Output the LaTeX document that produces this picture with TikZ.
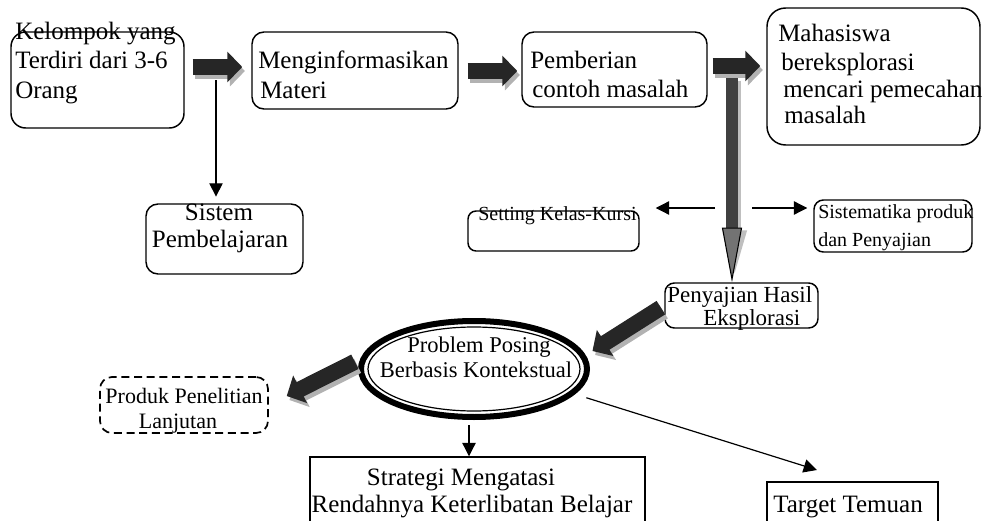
\documentclass[tikz,border=0pt]{standalone}
\usepackage{fontspec}
\setmainfont{Liberation Serif}
\usetikzlibrary{arrows.meta,shapes.geometric,fit,calc}
\begin{document}
\begin{tikzpicture}[x=0.75pt,y=-0.75pt,
 box/.style={draw, line width=1.1pt, rounded corners=9pt, inner sep=0pt},
 sqbox/.style={draw, line width=1.1pt, inner sep=0pt},
 dbox/.style={draw, line width=1.3pt, rounded corners=9pt, inner sep=0pt, dash pattern=on 6pt off 3.5pt},
 lbl/.style={inner sep=0pt, anchor=base west},
 clbl/.style={inner sep=0pt, anchor=base},
 fL/.style={font=\fontsize{18.75pt}{22pt}\selectfont},
 fM/.style={font=\fontsize{17.25pt}{20pt}\selectfont},
 fE/.style={font=\fontsize{16.9pt}{20pt}\selectfont},
 fP/.style={font=\fontsize{16.5pt}{20pt}\selectfont},
 fS/.style={font=\fontsize{15pt}{18pt}\selectfont},
 thinarr/.style={draw, line width=0.9pt, -{Triangle[length=10pt,width=10pt]}},
 fat/.style={draw=black!85, line width=12pt, -{Triangle[length=11.25pt,width=22.5pt]}},
 fatshadow/.style={draw=black!30, line width=12pt, -{Triangle[length=11.25pt,width=22.5pt]}, transform canvas={shift={(2pt,-3pt)}}},
 vfat/.style={draw=black!75, line width=9pt, -{Triangle[length=41pt,width=15pt,color=black,fill=black!55,line width=0.8pt]}},
 vfatshadow/.style={draw=black!25, line width=9pt, -{Triangle[length=41pt,width=15pt]}, transform canvas={shift={(2pt,-2pt)}}},
]
\useasboundingbox (0,0) rectangle (983,521);

% boxes
\node[box, rounded corners=11pt, fit={(11,32) (184,128)}] (b1) {};
\node[box, fit={(252,32) (458,109)}] (b2) {};
\node[box, fit={(522,32) (707,107)}] (b3) {};
\node[box, rounded corners=14pt, fit={(767,8) (980,145)}] (b4) {};
\node[box, fit={(146,204) (303,274)}] (b5) {};
\node[box, rounded corners=6pt, fit={(468,211) (639,251)}] (b6) {};
\node[box, rounded corners=7pt, fit={(814,200) (972,252)}] (b7) {};
\node[box, rounded corners=7pt, fit={(665,283) (818,328)}] (b8) {};
\node[draw, ellipse, line width=4.5pt, minimum width=169.5pt, minimum height=72pt, inner sep=0pt] (ell) at (474,369) {};
\draw[line width=0.9pt] (ell.center) ellipse [x radius=79.5pt, y radius=31.5pt];
\node[dbox, fit={(100,377) (268,433)}] (b9) {};
\node[sqbox, fit={(310,457) (645,535)}] (b10) {};
\node[sqbox, fit={(767,482) (938,535)}] (b11) {};

% texts
\node[lbl, fL] (t1a) at (15,40) {Kelompok yang};
\node[lbl, fL] (t1b) at (15,68) {Terdiri dari 3-6};
\node[lbl, fL] (t1c) at (15,98) {Orang};
\node[lbl, fL] (t2a) at (258,68) {Menginformasikan};
\node[lbl, fL] (t2b) at (260,98) {Materi};
\node[lbl, fL] (t3a) at (530,68) {Pemberian};
\node[lbl, fL] (t3b) at (532,97) {contoh masalah};
\node[lbl, fL] (t4a) at (778,41) {Mahasiswa};
\node[lbl, fL] (t4b) at (781,70) {bereksplorasi};
\node[lbl, fL] (t4c) at (783,97) {mencari pemecahan};
\node[lbl, fL] (t4d) at (784,123) {masalah};
\node[clbl, fL] (t5a) at (219,220) {Sistem};
\node[clbl, fL] (t5b) at (220,247) {Pembelajaran};
\node[lbl, fS] (t6) at (478,220) {Setting Kelas-Kursi};
\node[lbl, fS] (t7a) at (818,218) {Sistematika produk};
\node[lbl, fS] (t7b) at (818,246) {dan Penyajian};
\node[lbl, fM] (t8a) at (667,302) {Penyajian Hasil};
\node[lbl, fM] (t8b) at (703,325) {Eksplorasi};
\node[clbl, fE] (tea) at (479,352) {Problem Posing};
\node[clbl, fE] (teb) at (476,377) {Berbasis Kontekstual};
\node[clbl, fP] (t9a) at (184,403) {Produk Penelitian};
\node[clbl, fP] (t9b) at (178,428) {Lanjutan};
\node[clbl, fL] (t10a) at (461,485) {Strategi Mengatasi};
\node[clbl, fL] (t10b) at (472,512) {Rendahnya Keterlibatan Belajar};
\node[lbl, fL] (t11) at (773,512) {Target Temuan};

% fat arrows
\coordinate (yF1) at (0,67);
\coordinate (yF2) at (0,71);
\coordinate (yF3) at (0,66);
\draw[fatshadow, shorten <=6pt, shorten >=6.75pt] (b1.east |- yF1) -- (b2.west |- yF1);
\draw[fat, shorten <=6pt, shorten >=6.75pt] (b1.east |- yF1) -- (b2.west |- yF1);
\draw[fatshadow, shorten <=6.75pt, shorten >=3pt] (b2.east |- yF2) -- (b3.west |- yF2);
\draw[fat, shorten <=6.75pt, shorten >=3pt] (b2.east |- yF2) -- (b3.west |- yF2);
\draw[fatshadow, shorten <=3.75pt, shorten >=4.5pt] (b3.east |- yF3) -- (b4.west |- yF3);
\draw[fat, shorten <=3.75pt, shorten >=4.5pt] (b3.east |- yF3) -- (b4.west |- yF3);

\coordinate (vtop) at (732,78);
\draw[vfatshadow] (vtop) -- (vtop |- b8.north);
\draw[vfat] (vtop) -- (vtop |- b8.north);

\draw[fatshadow, shorten <=3pt, shorten >=6pt] (b8.west) -- (ell.7);
\draw[fat, shorten <=3pt, shorten >=6pt] (b8.west) -- (ell.7);
\draw[fatshadow, shorten <=4.5pt, shorten >=15pt] (ell.175) -- (b9.east);
\draw[fat, shorten <=4.5pt, shorten >=15pt] (ell.175) -- (b9.east);

% thin arrows
\coordinate (a1s) at (216,80);
\draw[thinarr, shorten >=5pt] (a1s) -- (a1s |- b5.north);
\coordinate (a2s) at (715,208);
\draw[thinarr, shorten >=12pt] (a2s) -- (a2s -| b6.east);
\coordinate (a3s) at (752,208);
\draw[thinarr, shorten >=4.5pt] (a3s) -- (a3s -| b7.west);
\coordinate (a4s) at (469,425);
\draw[thinarr] (a4s) -- (a4s |- b10.north);
\coordinate (a5e) at (817,470);
\draw[thinarr, shorten <=9pt] (ell.-14) -- (a5e);
\end{tikzpicture}
\end{document}
